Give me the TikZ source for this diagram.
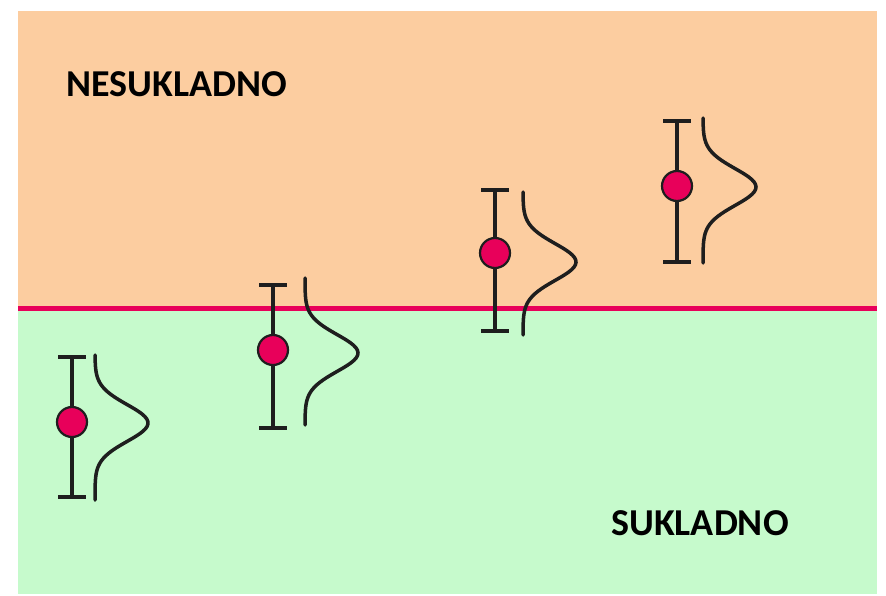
\documentclass[tikz,border=0pt]{standalone}
\usepackage{fontspec}
\setmainfont{Carlito}
\usepackage{xcolor}

\definecolor{peach}{RGB}{252,205,160}
\definecolor{mint}{RGB}{198,250,204}
\definecolor{limitred}{RGB}{232,0,90}
\definecolor{barink}{RGB}{30,30,30}

\begin{document}
\begin{tikzpicture}[x=1pt,y=-1pt]
        \useasboundingbox (0,0) rectangle (886,595);

        % the two zones
        \fill[peach] (18,11) rectangle (877,308);
        \fill[mint] (18,308) rectangle (877,594);
        \draw[limitred,line width=5pt] (18,308) -- (877,308);

        \node[font=\bfseries\fontsize{38}{38}\selectfont] (nesukladno) at (177,84) {NESUKLADNO};
        \node[font=\bfseries\fontsize{38}{38}\selectfont] (sukladno) at (700,523) {SUKLADNO};

        % error bars: x, top, dot, bottom
        \foreach \bx/\bt/\bm/\bb in {72/357/422/497, 273/285/350/428, 495/190/253/331, 677/121/186/262}
        {
            \draw[barink,line width=3.5pt] (\bx,\bt) -- (\bx,\bb);
            \draw[barink,line width=3.5pt] (\bx-14,\bt) -- (\bx+14,\bt);
            \draw[barink,line width=3.5pt] (\bx-14,\bb) -- (\bx+14,\bb);
            \filldraw[fill=limitred,draw=barink,line width=2.2pt] (\bx,\bm) circle (15);
        }

        % distributions: left x, top, peak, bottom
        \foreach \cx/\ct/\cm/\cb in {95/355/423/500, 305/278/353/425, 523/192/262/335, 703/118/187/263}
        {
            \draw[barink,line width=3.5pt,line cap=round,smooth]
                plot[variable=\t,domain=\ct:\cb,samples=60] ({\cx + 53*exp(-((\t - \cm)/26)*((\t - \cm)/26))}, {\t});
        }
    \end{tikzpicture}
\end{document}
